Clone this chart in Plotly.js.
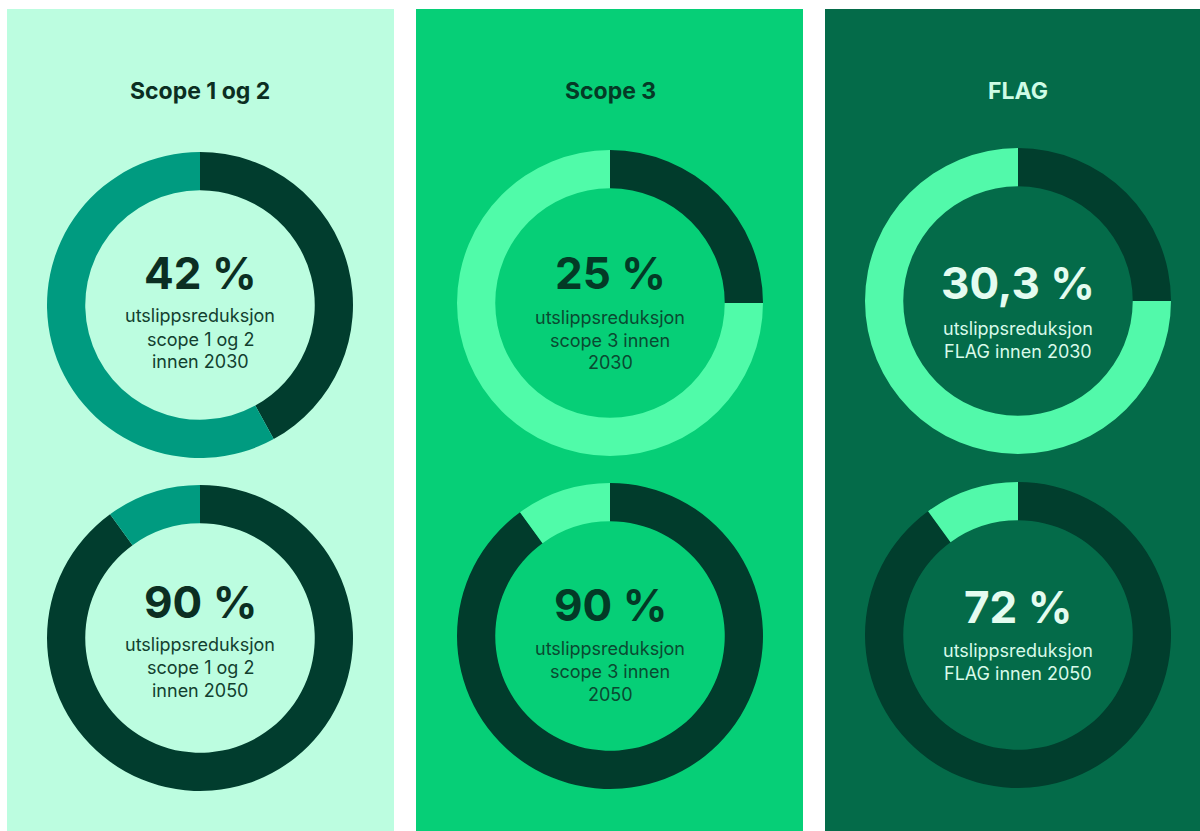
<!DOCTYPE html>
<html>
<head>
<meta charset="utf-8">
<script src="https://cdn.plot.ly/plotly-3.0.1.min.js"></script>
<style>
  html, body { margin: 0; padding: 0; background: #ffffff; }
  #chart { width: 1200px; height: 831px; }
</style>
</head>
<body>
<div id="chart"></div>
<script>
// ---- data ----
const panelTitles = ["Scope 1 og 2", "Scope 3", "FLAG"];
const label2030 = ["42 %", "25 %", "30,3 %"];
const label2050 = ["90 %", "90 %", "72 %"];
// ring fractions as drawn in the picture (percent)
const ring2030 = [42, 25, 25];
const ring2050 = [90, 90, 90];
const desc2030 = [
  ["utslippsreduksjon", "scope 1 og 2", "innen 2030"],
  ["utslippsreduksjon", "scope 3 innen", "2030"],
  ["utslippsreduksjon", "FLAG innen 2030"]
];
const desc2050 = [
  ["utslippsreduksjon", "scope 1 og 2", "innen 2050"],
  ["utslippsreduksjon", "scope 3 innen", "2050"],
  ["utslippsreduksjon", "FLAG innen 2050"]
];

// ---- styles / layout geometry ----
const W = 1200, H = 831;
const FONT = "Inter, 'Noto Sans', sans-serif";
const panelX = [[7, 394], [416, 803], [825, 1200]];
const panelTop = 9;
const panelBg = ["#BCFDE0", "#06CF77", "#046B49"];
const ringLight = ["#009B80", "#50FBA9", "#52F9AA"];
const ringDark = ["#013D2E", "#013C2C", "#013E2D"];
const titleColor = ["#0B2E22", "#053A26", "#CFFCE6"];
const bigColor = ["#0B2E22", "#033A26", "#E4FCF0"];
const descColor = ["#12402F", "#0A4A31", "#D8FAEA"];
const cx = [200, 610, 1018];
const cyTop = [305, 303, 301];
const cyBot = [638, 636, 635];
const R = 153;
const titleY = 91;
const bigYTop = [273, 273, 283];
const descYTop = [[316, 339, 361], [317, 340, 362], [328, 351]];
const bigYBot = [602, 605, 607];
const descYBot = [[644, 667, 690], [648, 671, 694], [650, 673]];

const px = x => x / W;
const py = y => 1 - y / H;

const traces = [];
const shapes = [];
const annotations = [];

function donut(i, cy, val) {
  traces.push({
    type: "pie",
    values: [val, 100 - val],
    labels: ["reduksjon", "rest"],
    sort: false,
    direction: "clockwise",
    rotation: 0,
    hole: 0.75,
    textinfo: "none",
    hoverinfo: "none",
    showlegend: false,
    marker: { colors: [ringDark[i], ringLight[i]], line: { width: 0 } },
    domain: { x: [px(cx[i] - R), px(cx[i] + R)], y: [py(cy + R), py(cy - R)] }
  });
}

function text(i, y, t, size, color, bold) {
  annotations.push({
    xref: "paper", yref: "paper",
    x: px(cx[i]), y: py(y),
    xanchor: "center", yanchor: "middle",
    showarrow: false,
    text: bold ? "<b>" + t + "</b>" : t,
    font: { family: FONT, size: size, color: color }
  });
}

for (let i = 0; i < 3; i++) {
  shapes.push({
    type: "rect", xref: "paper", yref: "paper", layer: "below",
    x0: px(panelX[i][0]), x1: px(panelX[i][1]), y0: 0, y1: py(panelTop),
    fillcolor: panelBg[i], line: { width: 0 }
  });
  donut(i, cyTop[i], ring2030[i]);
  donut(i, cyBot[i], ring2050[i]);
  text(i, titleY, panelTitles[i], 23, titleColor[i], true);
  text(i, bigYTop[i], label2030[i], 44, bigColor[i], true);
  desc2030[i].forEach((l, k) => text(i, descYTop[i][k], l, 18, descColor[i], false));
  text(i, bigYBot[i], label2050[i], 44, bigColor[i], true);
  desc2050[i].forEach((l, k) => text(i, descYBot[i][k], l, 18, descColor[i], false));
}

const layout = {
  width: W, height: H,
  margin: { l: 0, r: 0, t: 0, b: 0 },
  paper_bgcolor: "#ffffff",
  plot_bgcolor: "#ffffff",
  showlegend: false,
  shapes: shapes,
  annotations: annotations,
  font: { family: FONT }
};

Plotly.newPlot("chart", traces, layout, { displayModeBar: false, staticPlot: true });
</script>
</body>
</html>
